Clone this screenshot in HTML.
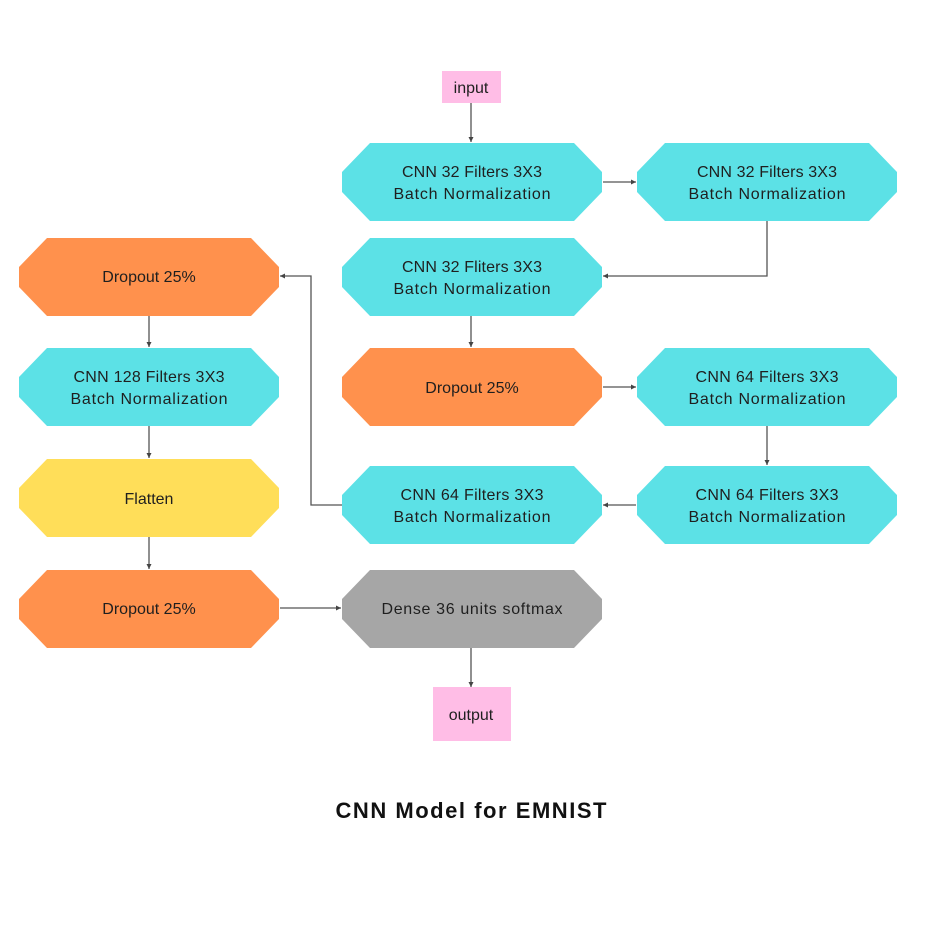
<!DOCTYPE html>
<html><head><meta charset="utf-8"><style>
html,body{margin:0;padding:0;background:#fff;}
svg{display:block;}
text{font-family:"Liberation Sans",sans-serif;fill:#1f1f1f;font-size:16px;text-anchor:middle;}
</style></head><body>
<svg width="938" height="938" viewBox="0 0 938 938" xmlns="http://www.w3.org/2000/svg">
<defs><marker id="a" markerWidth="6" markerHeight="6" refX="5" refY="3" orient="auto" markerUnits="userSpaceOnUse"><path d="M0,0.5 L5,3 L0,5.5 z" fill="#444"/></marker></defs>
<g stroke="#555" stroke-width="1.3" fill="none" marker-end="url(#a)">
<line x1="471" y1="103" x2="471" y2="142"/>
<line x1="603" y1="182" x2="636" y2="182"/>
<polyline points="767,221 767,276 603,276"/>
<line x1="471" y1="316" x2="471" y2="347"/>
<line x1="603" y1="387" x2="636" y2="387"/>
<line x1="767" y1="426" x2="767" y2="465"/>
<line x1="636" y1="505" x2="603" y2="505"/>
<polyline points="342,505 311,505 311,276 280,276"/>
<line x1="149" y1="316" x2="149" y2="347"/>
<line x1="149" y1="426" x2="149" y2="458"/>
<line x1="149" y1="537" x2="149" y2="569"/>
<line x1="280" y1="608" x2="341" y2="608"/>
<line x1="471" y1="648" x2="471" y2="687"/>
</g>
<g>
<!-- octagons: x,y w260 h78 -->
<polygon fill="#5ce1e6" points="370,143 574,143 602,172 602,192 574,221 370,221 342,192 342,172"/>
<polygon fill="#5ce1e6" points="665,143 869,143 897,172 897,192 869,221 665,221 637,192 637,172"/>
<polygon fill="#5ce1e6" points="370,238 574,238 602,267 602,287 574,316 370,316 342,287 342,267"/>
<polygon fill="#ff914d" points="370,348 574,348 602,377 602,397 574,426 370,426 342,397 342,377"/>
<polygon fill="#5ce1e6" points="665,348 869,348 897,377 897,397 869,426 665,426 637,397 637,377"/>
<polygon fill="#5ce1e6" points="370,466 574,466 602,495 602,515 574,544 370,544 342,515 342,495"/>
<polygon fill="#5ce1e6" points="665,466 869,466 897,495 897,515 869,544 665,544 637,515 637,495"/>
<polygon fill="#a6a6a6" points="370,570 574,570 602,599 602,619 574,648 370,648 342,619 342,599"/>
<polygon fill="#ff914d" points="47,238 251,238 279,267 279,287 251,316 47,316 19,287 19,267"/>
<polygon fill="#5ce1e6" points="47,348 251,348 279,377 279,397 251,426 47,426 19,397 19,377"/>
<polygon fill="#ffde59" points="47,459 251,459 279,488 279,508 251,537 47,537 19,508 19,488"/>
<polygon fill="#ff914d" points="47,570 251,570 279,599 279,619 251,648 47,648 19,619 19,599"/>
<rect x="442" y="71" width="59" height="32" fill="#ffbde6"/>
<rect x="433" y="687" width="78" height="54" fill="#ffbde6"/>
</g>
<g>
<text x="471" y="93">input</text>
<text x="471" y="720">output</text>
<text x="472" y="177" textLength="140">CNN 32 Filters 3X3</text>
<text x="472" y="199" textLength="157">Batch Normalization</text>
<text x="767" y="177" textLength="140">CNN 32 Filters 3X3</text>
<text x="767" y="199" textLength="157">Batch Normalization</text>
<text x="472" y="272" textLength="140">CNN 32 Fliters 3X3</text>
<text x="472" y="294" textLength="157">Batch Normalization</text>
<text x="472" y="393">Dropout 25%</text>
<text x="767" y="382" textLength="143">CNN 64 Filters 3X3</text>
<text x="767" y="404" textLength="157">Batch Normalization</text>
<text x="472" y="500" textLength="143">CNN 64 Filters 3X3</text>
<text x="472" y="522" textLength="157">Batch Normalization</text>
<text x="767" y="500" textLength="143">CNN 64 Filters 3X3</text>
<text x="767" y="522" textLength="157">Batch Normalization</text>
<text x="472" y="614" textLength="181">Dense 36 units softmax</text>
<text x="149" y="282">Dropout 25%</text>
<text x="149" y="382" textLength="151">CNN 128 Filters 3X3</text>
<text x="149" y="404" textLength="157">Batch Normalization</text>
<text x="149" y="504">Flatten</text>
<text x="149" y="614">Dropout 25%</text>
<text x="471" y="818" style="font-weight:bold;font-size:22px;fill:#111" textLength="271">CNN Model for EMNIST</text>
</g>
</svg>
</body></html>
